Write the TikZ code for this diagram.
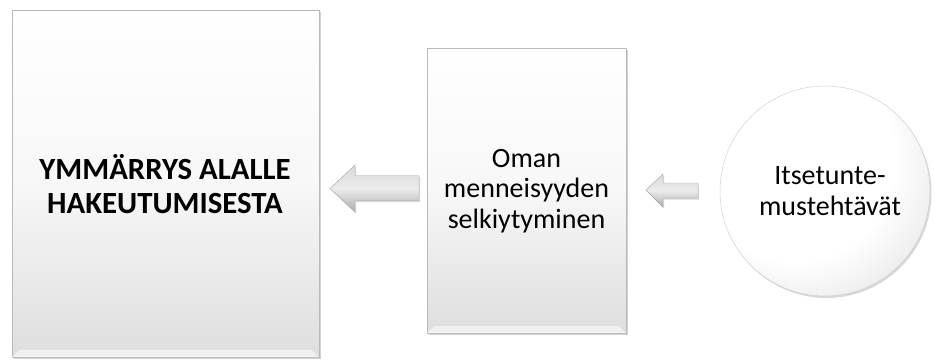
\documentclass[tikz,border=0pt]{standalone}
\usepackage{fontspec}
\setmainfont{Carlito}
\usetikzlibrary{shadows}
% soft highlight towards the upper left, greying towards the rim
\pgfdeclareradialshading{softball}{\pgfpoint{-12bp}{12bp}}{%
  color(0bp)=(white); color(24bp)=(white); color(48bp)=(black!18);
  color(62bp)=(black!36)}
\tikzset{
  bevelbox/.style={draw=gray!55, line width=0.6pt,
    top color=white, bottom color=gray!26, middle color=white!94!gray,
    shading angle=0,
    drop shadow={opacity=0.35, shadow xshift=1.5pt, shadow yshift=-2pt}},
  ball/.style={draw=gray!35, line width=0.5pt, circle, shading=softball,
    drop shadow={opacity=0.3, shadow xshift=1.5pt, shadow yshift=-2pt}},
  blockarrow/.style={draw=gray!70, line width=0.4pt,
    top color=gray!30, bottom color=gray!65, middle color=gray!15,
    drop shadow={opacity=0.3, shadow xshift=1pt, shadow yshift=-1.5pt}},
  label/.style={align=center, text=black, inner sep=0pt,
    font=\fontsize{28}{30.7}\selectfont}
}
\begin{document}
\begin{tikzpicture}[x=1pt, y=-1pt]
\useasboundingbox (0,0) rectangle (935,360);
\fill[white] (0,0) rectangle (935,360);

% boxes and circle
\path[bevelbox] (12,10) rectangle (319,357);
\fill[gray!12] (12,357) -- (319,357) -- (312,350) -- (19,350) -- cycle;

\path[bevelbox] (427,48) rectangle (626,333);
\fill[gray!12] (427,333) -- (626,333) -- (619,326) -- (434,326) -- cycle;

\node[ball, minimum size=210pt, inner sep=0pt] (tasks) at (825,191) {};

% labels
\node[label, font=\fontsize{30.8}{33.8}\bfseries\selectfont] (goal) at (165,184)
  {YMMÄRRYS ALALLE\\HAKEUTUMISESTA};
\node[label] (past) at (526.5,191) {Oman\\menneisyyden\\selkiytyminen};
\node[label] (tasktext) at (830,191) {Itsetunte-\\mustehtävät};

% block arrows
\path[blockarrow] (330,188.5) -- (355,165) -- (355,175.5) -- (419,175.5)
  -- (419,200.5) -- (355,200.5) -- (355,212) -- cycle;
\path[blockarrow] (646,190) -- (663,174) -- (663,183) -- (698,183)
  -- (698,198) -- (663,198) -- (663,207) -- cycle;
\end{tikzpicture}
\end{document}
